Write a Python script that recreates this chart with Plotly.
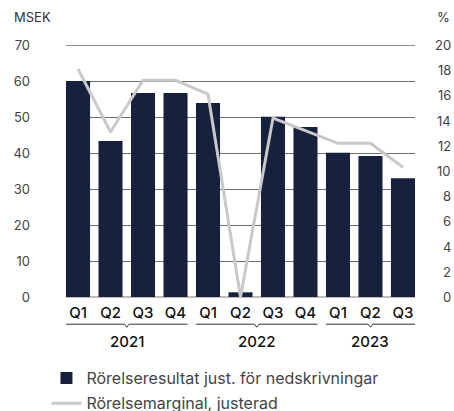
import plotly.graph_objects as go

quarters = ["Q1", "Q2", "Q3", "Q4", "Q1", "Q2", "Q3", "Q4", "Q1", "Q2", "Q3"]
years = ["2021", "2021", "2021", "2021", "2022", "2022", "2022", "2022", "2023", "2023", "2023"]
result_msek = [60.0, 43.3, 56.7, 56.7, 53.9, 1.3, 50.1, 47.2, 40.1, 39.2, 33.0]
margin_pct = [18.1, 13.1, 17.2, 17.2, 16.1, 0.0, 14.2, 13.2, 12.2, 12.2, 10.3]
left_ticks = [0, 10, 20, 30, 40, 50, 60, 70]
right_ticks = [0, 2, 4, 6, 8, 10, 12, 14, 16, 18, 20]

FONT = "Inter"
BAR_COLOR = "#16213d"
LINE_COLOR = "#c9c9c9"
BARGAP = 0.26
half = (1 - BARGAP) / 2

xs = list(range(len(quarters)))

fig = go.Figure()
fig.add_trace(go.Bar(
    x=xs, y=result_msek, name="Rörelseresultat just. för nedskrivningar",
    marker=dict(color=BAR_COLOR, line=dict(width=0)), yaxis="y", legend="legend",
))
fig.add_trace(go.Scatter(
    x=xs, y=margin_pct, name="Rörelsemarginal, justerad", mode="lines",
    line=dict(color=LINE_COLOR, width=3), yaxis="y2", legend="legend2",
))

shapes = []
annotations = []
groups = []
for i, yr in enumerate(years):
    if not groups or groups[-1][0] != yr:
        groups.append([yr, i, i])
    else:
        groups[-1][2] = i
by = -0.108
bl = dict(color="#333", width=1)
for yr, a, b in groups:
    x0, x1 = a - half, b + half
    mid = (a + b) / 2
    shapes.append(dict(type="line", xref="x", yref="paper", x0=x0, x1=mid - 0.07, y0=by, y1=by, line=bl))
    shapes.append(dict(type="line", xref="x", yref="paper", x0=mid + 0.07, x1=x1, y0=by, y1=by, line=bl))
    shapes.append(dict(type="line", xref="x", yref="paper", x0=mid - 0.07, x1=mid, y0=by, y1=by - 0.012, line=bl))
    shapes.append(dict(type="line", xref="x", yref="paper", x0=mid, x1=mid + 0.07, y0=by - 0.012, y1=by, line=bl))
    annotations.append(dict(text=yr, x=mid, xref="x", y=-0.178, yref="paper", showarrow=False,
                            font=dict(family=FONT, size=15, color="#111", weight=500), yanchor="middle"))

# top gridline (70) drawn darker/thinner
shapes.append(dict(type="line", xref="paper", yref="y", x0=0, x1=1, y0=left_ticks[-1], y1=left_ticks[-1],
                   line=dict(color="#222", width=1)))

# right axis tick labels, right-aligned
for t in right_ticks:
    annotations.append(dict(text=str(t), xref="paper", yref="y2", x=(453-66)/349, y=t,
                            xanchor="right", yanchor="middle", showarrow=False,
                            font=dict(family=FONT, size=13, color="#444")))

annotations.append(dict(text="MSEK", xref="paper", yref="paper", x=-54/349, y=(297-17)/252,
                        xanchor="left", yanchor="middle", showarrow=False,
                        font=dict(family=FONT, size=13, color="#333")))
annotations.append(dict(text="%", xref="paper", yref="paper", x=(435-66)/349, y=(297-17)/252,
                        xanchor="left", yanchor="middle", showarrow=False,
                        font=dict(family=FONT, size=13, color="#333")))

legend_font = dict(family=FONT, size=16, color="#444")
fig.update_layout(
    width=454, height=411,
    margin=dict(l=66, r=39, t=45, b=114, autoexpand=False),
    paper_bgcolor="white", plot_bgcolor="white",
    bargap=BARGAP,
    showlegend=True,
    legend=dict(x=-0.056, y=-0.322, xanchor="left", yanchor="middle", orientation="v",
                font=legend_font, itemwidth=30, bgcolor="rgba(0,0,0,0)"),
    legend2=dict(x=-0.056, y=-0.422, xanchor="left", yanchor="middle", orientation="v",
                 font=legend_font, itemwidth=30, bgcolor="rgba(0,0,0,0)"),
    xaxis=dict(range=[-half, len(xs) - 1 + half], tickvals=xs, ticktext=quarters,
               showgrid=False, zeroline=False, showline=False, ticks="", ticklabelstandoff=5,
               tickfont=dict(family=FONT, size=15, color="#111", weight=500)),
    yaxis=dict(range=[0, 70], tickvals=left_ticks, showgrid=True, gridcolor="#6e6e6e", gridwidth=1,
               zeroline=True, zerolinecolor="#bdbdbd", zerolinewidth=2, showline=False,
               ticks="", ticklabelstandoff=35,
               tickfont=dict(family=FONT, size=13, color="#444")),
    yaxis2=dict(range=[0, 20], tickvals=right_ticks, overlaying="y", side="right",
                showgrid=False, zeroline=False, showline=False, ticks="",
                showticklabels=False),
    shapes=shapes,
    annotations=annotations,
)

fig.write_html(
    "out.html",
    config={"displayModeBar": False},
    post_script="document.body.style.margin='0';document.body.style.overflow='hidden';",
)
